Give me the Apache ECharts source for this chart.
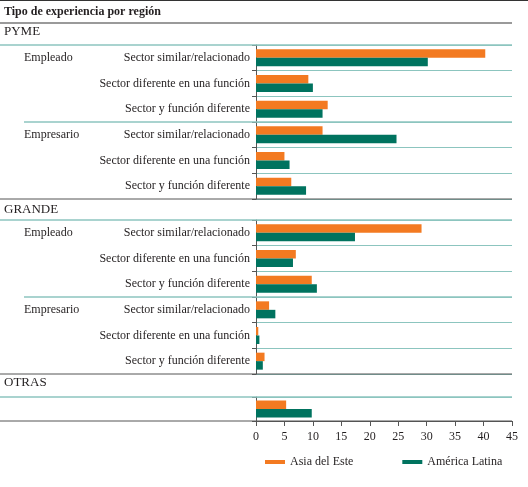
<!DOCTYPE html>
<html>
<head>
<meta charset="utf-8">
<script src="https://cdn.jsdelivr.net/npm/echarts@6/dist/echarts.min.js"></script>
<style>
  html, body { margin: 0; padding: 0; background: #fff; }
  #main { width: 528px; height: 487px; }
</style>
</head>
<body>
<div id="main"></div>
<script>
var dom = document.getElementById('main');
var myChart = echarts.init(dom);

var sections = ['PYME', 'GRANDE', 'OTRAS'];
var tipos = ['Sector similar/relacionado', 'Sector diferente en una función', 'Sector y función diferente'];
var catPyme = tipos.concat(tipos);
var catGrande = tipos.concat(tipos);
var catOtras = [''];
var grupos = ['Empleado', '', '', 'Empresario', '', ''];
var gruposOtras = [''];

var asiaPyme = [40.3, 9.2, 12.6, 11.7, 5.0, 6.2];
var latamPyme = [30.2, 10.0, 11.7, 24.7, 5.9, 8.8];
var asiaGrande = [29.1, 7.0, 9.8, 2.3, 0.4, 1.5];
var latamGrande = [17.4, 6.5, 10.7, 3.4, 0.6, 1.2];
var asiaOtras = [5.3];
var latamOtras = [9.8];

var xTicks = [0, 5, 10, 15, 20, 25, 30, 35, 40, 45];

var FONT = '"Liberation Serif", "DejaVu Serif", serif';
var TXT = '#231f20';
var ORANGE = '#f37a21';
var TEAL = '#00735f';
var LINE_TEAL = '#8cc5bf';
var DARK = '#555555';

// grid layout (pixels)
var L = 256, R = 512;
var grids = [
  { top: 45, height: 154 },
  { top: 220, height: 154 },
  { top: 397, height: 24 }
];
var cats = [catPyme, catGrande, catOtras];
var grps = [grupos, grupos, gruposOtras];
var asia = [asiaPyme, asiaGrande, asiaOtras];
var latam = [latamPyme, latamGrande, latamOtras];

var gridOpt = [], xAxes = [], yAxes = [], series = [];
for (var i = 0; i < 3; i++) {
  gridOpt.push({ left: L, width: R - L, top: grids[i].top, height: grids[i].height });
  xAxes.push({
    type: 'value', gridIndex: i, min: 0, max: 45, interval: 5,
    show: i === 2,
    axisLine: { show: true, lineStyle: { color: DARK, width: 1 } },
    axisTick: { show: true, length: 5, lineStyle: { color: DARK } },
    axisLabel: { color: TXT, fontFamily: FONT, fontSize: 12, margin: 10,
      formatter: function (v) { return xTicks.indexOf(v) >= 0 ? String(v) : ''; } },
    splitLine: { show: false }
  });
  yAxes.push({
    type: 'category', gridIndex: i, data: cats[i], inverse: true,
    axisLine: { show: true, lineStyle: { color: DARK, width: 1 } },
    axisTick: { show: true, length: 4, lineStyle: { color: DARK } },
    axisLabel: { color: TXT, fontFamily: FONT, fontSize: 12, margin: 6 },
    splitLine: { show: true, lineStyle: { color: LINE_TEAL, width: 1.2 } }
  });
  yAxes.push({
    type: 'category', gridIndex: i, data: grps[i], inverse: true,
    position: 'left', offset: L - 24,
    axisLine: { show: false }, axisTick: { show: false }, splitLine: { show: false },
    axisLabel: { color: TXT, fontFamily: FONT, fontSize: 12, align: 'left', margin: 0 }
  });
  series.push({
    name: 'Asia del Este', type: 'bar', xAxisIndex: i, yAxisIndex: i * 2,
    data: asia[i], barWidth: 8.5, barGap: '0%', itemStyle: { color: ORANGE }
  });
  series.push({
    name: 'América Latina', type: 'bar', xAxisIndex: i, yAxisIndex: i * 2,
    data: latam[i], barWidth: 8.5, barGap: '0%', itemStyle: { color: TEAL }
  });
}

function hline(y, x1, color, w) {
  return { type: 'line', z: 50, shape: { x1: x1, y1: y, x2: R, y2: y },
    style: { stroke: color, lineWidth: w } };
}
var rowH = grids[0].height / 6;
var rowH2 = grids[1].height / 6;
var graphics = [
  { type: 'line', z: 50, shape: { x1: 0, y1: 0.5, x2: 528, y2: 0.5 }, style: { stroke: '#333', lineWidth: 1 } },
  hline(23, 0, '#9a9a9a', 2),
  hline(grids[0].top, 0, LINE_TEAL, 1.5),
  hline(grids[0].top + rowH * 3, 24, LINE_TEAL, 1.5),
  hline(grids[0].top + grids[0].height, 0, DARK, 1),
  hline(grids[1].top, 0, LINE_TEAL, 1.5),
  hline(grids[1].top + rowH2 * 3, 24, LINE_TEAL, 1.5),
  hline(grids[1].top + grids[1].height, 0, DARK, 1),
  hline(grids[2].top, 0, LINE_TEAL, 1.5),
  hline(grids[2].top + grids[2].height, 0, DARK, 1)
];
var headY = [33, 211, 384];
for (var s = 0; s < sections.length; s++) {
  graphics.push({ type: 'text', left: 4, top: headY[s] - 8,
    style: { text: sections[s], fill: TXT, font: '13px ' + FONT } });
}

option = {
  backgroundColor: '#ffffff',
  animation: false,
  title: {
    text: 'Tipo de experiencia por región', left: 4, top: 6, padding: 0,
    textStyle: { color: TXT, fontFamily: FONT, fontSize: 12, fontWeight: 'bold' }
  },
  legend: {
    data: ['Asia del Este', 'América Latina'],
    left: 260, top: 451, itemWidth: 20, itemHeight: 4, itemGap: 49, icon: 'rect',
    textStyle: { color: TXT, fontFamily: FONT, fontSize: 12 }
  },
  grid: gridOpt,
  xAxis: xAxes,
  yAxis: yAxes,
  series: series,
  graphic: graphics
};
myChart.setOption(option, true);
</script>
</body>
</html>
